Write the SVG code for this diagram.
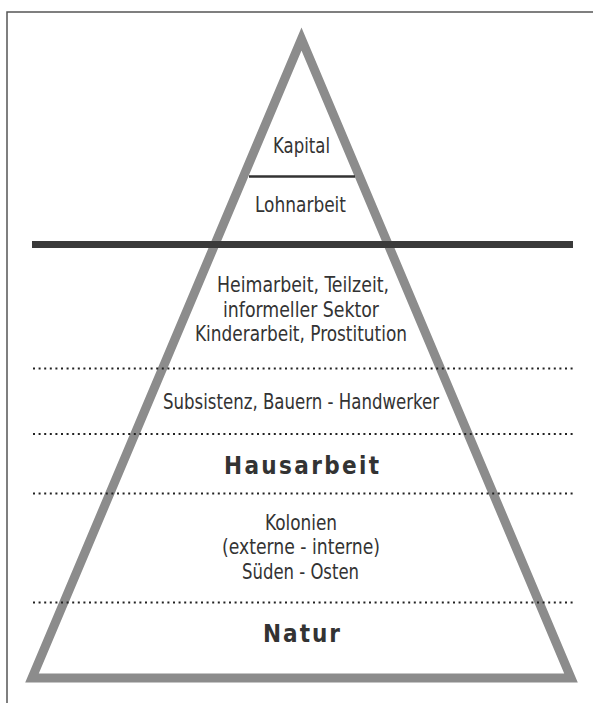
<svg xmlns="http://www.w3.org/2000/svg" width="593" height="703" viewBox="0 0 593 703">
<style>
.lbl{font-family:"Liberation Sans Narrow","DejaVu Sans Condensed","Liberation Sans",sans-serif;font-stretch:condensed;font-size:22px;fill:#333;text-anchor:middle}
.big{font-weight:bold;font-size:24px}
.dot{stroke:#222;stroke-width:2.2;stroke-dasharray:2 3.6;fill:none}
</style>
<rect width="593" height="703" fill="#fff"/>
<g id="frame"><path d="M7,703 V12 H593" fill="none" stroke="#555" stroke-width="1.5"/></g>
<g id="pyramid"><polygon points="301.5,39 32,678 571,678" fill="none" stroke="#8c8c8c" stroke-width="9" stroke-linejoin="miter"/></g>
<g id="connectors">
<line x1="249" y1="176.5" x2="355" y2="176.5" stroke="#333" stroke-width="2.5"/>
<line x1="32" y1="244.5" x2="573" y2="244.5" stroke="#3a3a3a" stroke-width="7"/>
<line class="dot" x1="33" y1="368.5" x2="573" y2="368.5"/>
<line class="dot" x1="33" y1="434" x2="573" y2="434"/>
<line class="dot" x1="33" y1="493.5" x2="573" y2="493.5"/>
<line class="dot" x1="33" y1="602.5" x2="573" y2="602.5"/>
</g>
<g id="kapital"><text class="lbl" x="301.5" y="153" textLength="57" lengthAdjust="spacingAndGlyphs">Kapital</text></g>
<g id="lohnarbeit"><text class="lbl" x="300.5" y="212" textLength="91" lengthAdjust="spacingAndGlyphs">Lohnarbeit</text></g>
<g id="informell">
<text class="lbl" x="303" y="292" textLength="172" lengthAdjust="spacingAndGlyphs">Heimarbeit, Teilzeit,</text>
<text class="lbl" x="301" y="317" textLength="156" lengthAdjust="spacingAndGlyphs">informeller Sektor</text>
<text class="lbl" x="301" y="341" textLength="212" lengthAdjust="spacingAndGlyphs">Kinderarbeit, Prostitution</text>
</g>
<g id="subsistenz"><text class="lbl" x="301" y="409" textLength="276" lengthAdjust="spacingAndGlyphs">Subsistenz, Bauern - Handwerker</text></g>
<g id="hausarbeit"><text class="lbl big" x="301.5" y="474" textLength="155" lengthAdjust="spacing">Hausarbeit</text></g>
<g id="kolonien">
<text class="lbl" x="301" y="530" textLength="72" lengthAdjust="spacingAndGlyphs">Kolonien</text>
<text class="lbl" x="301" y="554" textLength="158" lengthAdjust="spacingAndGlyphs">(externe - interne)</text>
<text class="lbl" x="300.5" y="579" textLength="117" lengthAdjust="spacingAndGlyphs">Süden - Osten</text>
</g>
<g id="natur"><text class="lbl big" x="301.5" y="642" textLength="77" lengthAdjust="spacing">Natur</text></g>
</svg>
